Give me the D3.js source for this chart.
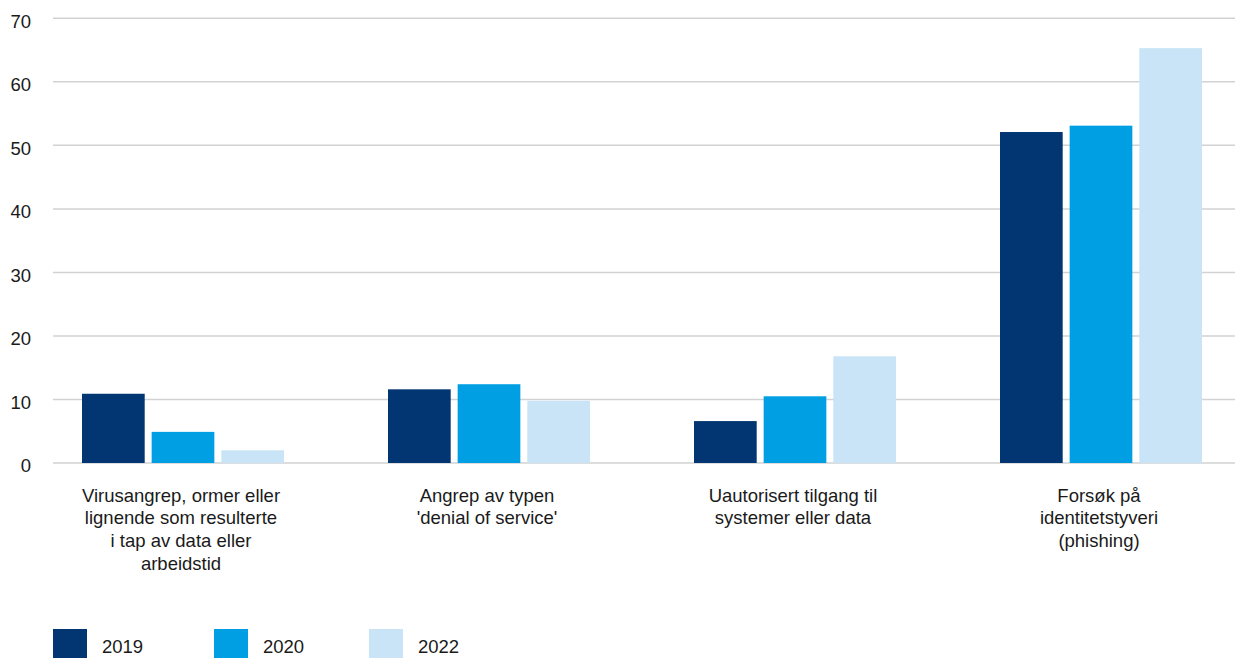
<!DOCTYPE html>
<html><head><meta charset="utf-8">
<script src="https://cdn.jsdelivr.net/npm/d3@7"></script>
<style>
html,body{margin:0;padding:0;background:#fff;}
svg{display:block;}
text{font-family:"Liberation Sans",Arial,Helvetica,sans-serif;fill:#1a1a1a;}
</style></head>
<body>
<svg id="chart" width="1235" height="658"></svg>
<script>
const categories = [
  ["Virusangrep, ormer eller","lignende som resulterte","i tap av data eller","arbeidstid"],
  ["Angrep av typen","'denial of service'"],
  ["Uautorisert tilgang til","systemer eller data"],
  ["Forsøk på","identitetstyveri","(phishing)"]
];
const seriesNames = ["2019","2020","2022"];
const values2019 = [10.9, 11.6, 6.6, 52.1];
const values2020 = [4.9, 12.4, 10.5, 53.1];
const values2022 = [2.0, 9.8, 16.8, 65.3];
const yTicks = [0,10,20,30,40,50,60,70];
const colors = ["#023672","#009fe3","#c9e4f6"];

const FS = "18.5px";
const seriesValues = [values2019, values2020, values2022];
const svg = d3.select("#chart");
const W = 1235;
const y = d3.scaleLinear().domain([0,70]).range([463,18.3]);
const x0 = d3.scaleBand().domain(d3.range(categories.length)).range([30,1254]).paddingInner(0).paddingOuter(0);
const groupW = 202;
const x1 = d3.scaleBand().domain(d3.range(seriesNames.length)).range([0,groupW]).paddingInner(0.1);

// gridlines
const grid = svg.append("g");
grid.selectAll("line").data(yTicks).join("line")
  .attr("x1",53).attr("x2",W)
  .attr("y1",d=>y(d)).attr("y2",d=>y(d))
  .attr("stroke","#d2d2d2").attr("stroke-width",1.5);

// y labels
const yAxis = d3.axisLeft(y).tickValues(yTicks).tickSize(0).tickPadding(0);
const yg = svg.append("g").attr("transform","translate(31,2.5)").call(yAxis);
yg.select(".domain").remove();
yg.selectAll("text").style("font-size",FS).style("font-family","Liberation Sans, Arial, sans-serif").attr("fill","#1a1a1a").attr("dy","0.35em");

// bars
const groups = svg.append("g").selectAll("g").data(categories.map((c,i)=>i)).join("g")
  .attr("transform",i=>`translate(${x0(i)+x0.bandwidth()/2-groupW/2},0)`);
groups.selectAll("rect").data(i=>seriesValues.map((s,k)=>({k,v:s[i]}))).join("rect")
  .attr("x",d=>x1(d.k)).attr("width",x1.bandwidth())
  .attr("y",d=>y(d.v)).attr("height",d=>y(0)-y(d.v))
  .attr("fill",d=>colors[d.k]);

// category labels
const labels = svg.append("g").selectAll("text").data(categories).join("text")
  .attr("x",(d,i)=>x0(i)+x0.bandwidth()/2-2)
  .attr("y",501.5)
  .attr("text-anchor","middle")
  .style("font-size",FS);
labels.selectAll("tspan").data(d=>d).join("tspan")
  .attr("x",function(){return d3.select(this.parentNode).attr("x");})
  .attr("dy",(d,i)=>i===0?0:22.8)
  .text(d=>d);

// legend
const legX = [53,214,369];
const leg = svg.append("g").selectAll("g").data(seriesNames).join("g")
  .attr("transform",(d,i)=>`translate(${legX[i]},629)`);
leg.append("rect").attr("width",34).attr("height",30).attr("fill",(d,i)=>colors[i]);
leg.append("text").attr("x",49).attr("y",24).style("font-size",FS).text(d=>d);
</script>
</body></html>
